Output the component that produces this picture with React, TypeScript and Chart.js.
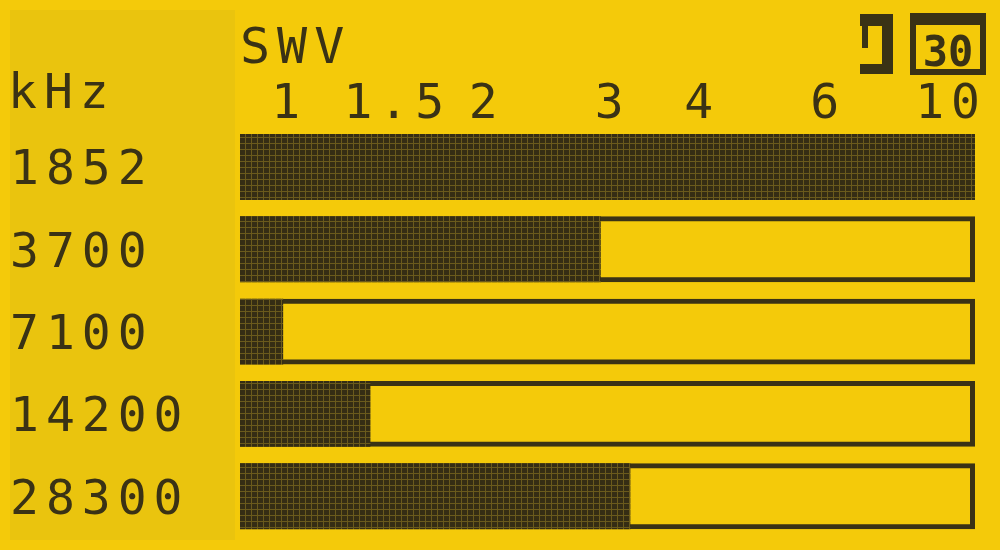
import React, { useEffect, useRef } from "react";
import { Chart, registerables } from "chart.js";

Chart.register(...registerables);

// ---- data ----
const categories = ["1852", "3700", "7100", "14200", "28300"];
const swrValues = [10, 3.0, 1.08, 1.43, 3.3];
const frameValues = [10, 10, 10, 10, 10];
const tickValues = [1, 1.5, 2, 3, 4, 6, 10];
const axisTitle = "SWV";
const unitLabel = "kHz";
const rangeLabel = "30";
const SCALE_MIN = 0.94;
const SCALE_MAX = 10;

const YELLOW = "#f4ca0a";
const PANEL = "#eac40e";
const DARK = "#3a3215";
const FONT = "'DejaVu Sans Mono', 'Liberation Mono', monospace";

function makePattern(ctx: CanvasRenderingContext2D) {
  const c = document.createElement("canvas");
  c.width = 6;
  c.height = 6;
  const p = c.getContext("2d")!;
  p.fillStyle = "#6a5a1c";
  p.fillRect(0, 0, 6, 6);
  p.fillStyle = "#352d14";
  p.fillRect(0, 0, 5, 5);
  return ctx.createPattern(c, "repeat") as CanvasPattern;
}

const lcdPlugin = {
  id: "lcd",
  beforeLayout(chart: any) {
    chart.ctx.letterSpacing = "7px";
  },
  beforeDraw(chart: any) {
    const ctx = chart.ctx as CanvasRenderingContext2D;
    ctx.save();
    ctx.fillStyle = YELLOW;
    ctx.fillRect(0, 0, chart.width, chart.height);
    ctx.fillStyle = PANEL;
    ctx.fillRect(10, 10, chart.chartArea.left - 15, chart.height - 20);
    ctx.restore();
    ctx.letterSpacing = "7px";
  },
  afterDraw(chart: any) {
    const ctx = chart.ctx as CanvasRenderingContext2D;
    ctx.save();
    ctx.fillStyle = DARK;
    ctx.font = `48px ${FONT}`;
    ctx.textBaseline = "alphabetic";
    ctx.textAlign = "left";
    ctx.letterSpacing = "7px";
    ctx.fillText(unitLabel, 8, 108);
    // bracket icon
    const r = chart.chartArea.right;
    ctx.fillRect(r - 115, 14, 33, 12);
    ctx.fillRect(r - 93, 14, 11, 60);
    ctx.fillRect(r - 115, 64, 33, 10);
    ctx.fillRect(r - 113, 26, 6, 22);
    // range box
    ctx.lineWidth = 6;
    ctx.strokeStyle = DARK;
    ctx.strokeRect(r - 62, 16, 70, 56);
    ctx.fillRect(r - 62, 13, 70, 12);
    ctx.font = `bold 42px ${FONT}`;
    ctx.letterSpacing = "0px";
    ctx.textAlign = "center";
    ctx.fillText(rangeLabel, r - 27, 66);
    ctx.restore();
  },
};

export default function App() {
  const ref = useRef<HTMLCanvasElement | null>(null);

  useEffect(() => {
    document.body.style.margin = "0";
    const canvas = ref.current!;
    const ctx = canvas.getContext("2d")!;
    const pattern = makePattern(ctx);
    const chart = new Chart(canvas, {
      type: "bar",
      data: {
        labels: categories,
        datasets: [
          {
            label: "SWV",
            data: swrValues,
            base: SCALE_MIN,
            backgroundColor: pattern,
            borderWidth: 0,
            grouped: false,
            order: 1,
            barPercentage: 0.8,
            categoryPercentage: 1,
          } as any,
          {
            label: "Skala",
            data: frameValues,
            base: SCALE_MIN,
            backgroundColor: "rgba(0,0,0,0)",
            borderColor: DARK,
            borderWidth: 5,
            borderSkipped: false,
            grouped: false,
            order: 2,
            barPercentage: 0.8,
            categoryPercentage: 1,
          } as any,
        ],
      },
      options: {
        indexAxis: "y",
        animation: false,
        responsive: true,
        maintainAspectRatio: false,
        layout: { padding: { top: 25, left: 10, right: 25, bottom: 11 } },
        plugins: {
          legend: { display: false },
          tooltip: { enabled: false },
        },
        scales: {
          x: {
            type: "logarithmic",
            position: "top",
            min: SCALE_MIN,
            max: SCALE_MAX,
            afterBuildTicks: (s: any) => {
              s.ticks = tickValues.map((v) => ({ value: v }));
            },
            grid: { display: false },
            border: { display: false },
            ticks: {
              autoSkip: false,
              maxRotation: 0,
              align: "inner",
              labelOffset: 12,
              padding: -8,
              color: DARK,
              font: { family: FONT, size: 48, lineHeight: 0.85 },
              callback: (v: any) => String(v),
            },
            title: {
              display: true,
              text: axisTitle,
              align: "start",
              color: DARK,
              font: { family: FONT, size: 50, lineHeight: 1 },
              padding: { top: 0, bottom: 18 },
            },
          },
          y: {
            grid: { display: false },
            border: { display: false },
            afterFit: (s: any) => {
              s.width = 230;
            },
            ticks: {
              crossAlign: "far",
              labelOffset: 5,
              color: DARK,
              font: { family: FONT, size: 48, lineHeight: 0.4 },
            },
          },
        },
      } as any,
      plugins: [lcdPlugin],
    });
    return () => chart.destroy();
  }, []);

  return (
    <div style={{ width: 1000, height: 550, position: "relative", background: YELLOW }}>
      <canvas ref={ref} />
    </div>
  );
}
